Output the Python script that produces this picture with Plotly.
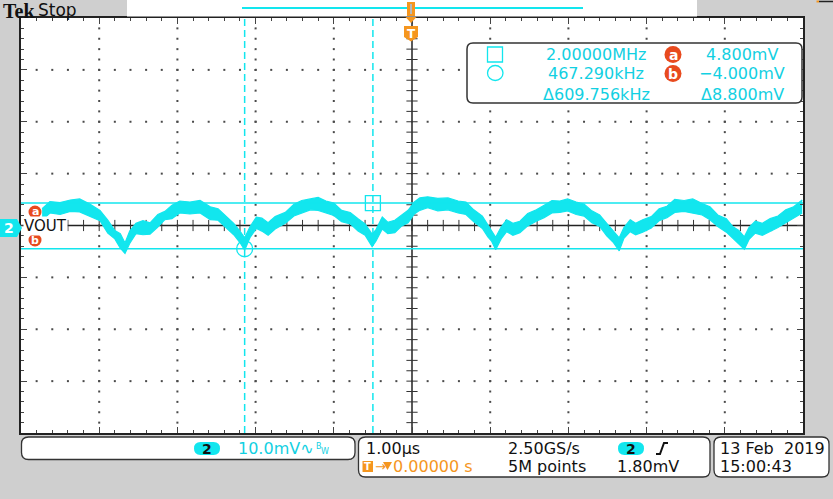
import plotly.graph_objects as go

# ---------------- data ----------------
# time in microseconds, voltage in mV (10 mV/div, 1 us/div)
trace_t = [-4.73, -4.63, -4.50, -4.37, -4.25, -4.12, -3.99, -3.89, -3.80, -3.73,
           -3.67, -3.61, -3.53, -3.44, -3.35, -3.25, -3.16, -3.07, -2.97, -2.84,
           -2.71, -2.58, -2.48, -2.38, -2.28, -2.20, -2.14, -2.07, -1.99, -1.92,
           -1.84, -1.75, -1.62, -1.51, -1.41, -1.30, -1.20, -1.10, -1.00, -0.90,
           -0.79, -0.69, -0.60, -0.51, -0.46, -0.38, -0.31, -0.22, -0.13, -0.05,
           0.03, 0.10, 0.20, 0.33, 0.46, 0.59, 0.69, 0.79, 0.90, 0.97,
           1.02, 1.07, 1.14, 1.21, 1.29, 1.38, 1.48, 1.59, 1.69, 1.79,
           1.89, 1.99, 2.10, 2.20, 2.30, 2.40, 2.49, 2.57, 2.65, 2.71,
           2.79, 2.86, 2.95, 3.06, 3.16, 3.26, 3.36, 3.48, 3.59, 3.71,
           3.81, 3.91, 4.02, 4.10, 4.18, 4.25, 4.31, 4.39, 4.48, 4.58,
           4.68, 4.78, 4.88, 4.99]
trace_hi = [3.7, 5.1, 4.9, 5.4, 5.6, 4.6, 3.4, 1.5, -0.5, -1.1,
            -2.9, -0.6, 0.9, 1.4, 1.0, 2.6, 3.2, 4.4, 5.2, 5.0,
            5.3, 4.1, 3.7, 2.3, 0.9, -0.6, -1.9, 0.3, 2.1, 1.9,
            1.0, 2.2, 3.0, 4.6, 5.3, 5.6, 5.9, 5.2, 4.8, 3.4,
            3.0, 1.8, 0.8, -1.2, -0.3, 2.1, 1.1, 1.5, 2.6, 3.4,
            5.0, 5.8, 6.0, 5.7, 5.8, 5.2, 5.0, 3.5, 2.3, 0.6,
            -0.4, -1.8, 0.2, 1.6, 0.9, 1.3, 2.8, 3.5, 4.4, 5.3,
            5.2, 5.6, 5.0, 4.6, 3.3, 2.5, 0.9, -0.5, -1.9, 0.1,
            1.6, 0.9, 1.6, 2.2, 3.7, 4.2, 5.5, 5.3, 5.6, 4.7,
            4.1, 2.5, 1.8, 0.3, -0.5, -1.7, 0.1, 1.3, 0.9, 1.8,
            2.3, 3.5, 4.1, 5.4]
trace_lo = [1.5, 2.9, 2.6, 3.2, 3.1, 2.3, 1.4, -1.0, -2.1, -3.9,
            -4.9, -3.0, -1.1, -1.3, -1.2, 0.2, 1.6, 1.8, 2.9, 2.7,
            2.9, 1.6, 1.5, 0.1, -1.3, -2.8, -4.3, -1.8, -0.1, -0.6,
            -1.4, -0.2, 0.9, 2.3, 2.8, 3.5, 3.4, 2.9, 2.4, 1.2,
            0.8, -0.6, -1.4, -3.6, -2.5, -0.2, -1.1, -0.9, 0.4, 1.0,
            2.7, 3.4, 3.9, 3.3, 3.5, 2.9, 2.6, 1.2, -0.1, -1.7,
            -2.6, -4.2, -2.1, -0.7, -1.4, -0.9, 0.4, 1.3, 2.0, 2.9,
            3.0, 3.3, 2.6, 2.3, 1.0, 0.3, -1.5, -2.7, -4.4, -2.0,
            -0.7, -1.3, -0.8, 0.0, 1.4, 2.0, 3.0, 3.2, 2.9, 2.5,
            1.6, 0.3, -0.8, -1.9, -3.0, -4.1, -2.2, -1.0, -1.4, -0.7,
            0.1, 1.0, 1.9, 2.9]

cursor_t = [-2.14, -0.50]        # vertical cursors (us)
cursor_v = [4.8, -4.0]           # horizontal cursors a, b (mV)
x_range = [-5.0, 5.0]            # 10 div x 1.00 us
y_range = [-39.52, 40.48]        # 8 div x 10.0 mV
y_center = 0.48

meas_left = ["2.00000MHz", "467.290kHz", "\u0394609.756kHz"]
meas_right = ["4.800mV", "\u22124.000mV", "\u03948.800mV"]

# ---------------- styling ----------------
W, H = 833, 499
ML, MR, MT, MB = 21, 30, 18, 66
PW, PH = W - ML - MR, H - MT - MB
CY = "#12e6ee"
CYT = "#12d0e2"
ORG = "#f5961e"
RED = "#e84a1e"
GRAY = "#cfcfcf"
FONT = "DejaVu Sans"


def PX(x):
    return (x - ML) / PW


def PY(y):
    return (H - MB - y) / PH


def rrect(x0, y0, x1, y1, r):
    rx, ry = r / PW, r / PH
    a0, a1 = PX(x0), PX(x1)
    b0, b1 = PY(y1), PY(y0)  # bottom, top in paper
    return (f"M {a0+rx},{b0} L {a1-rx},{b0} Q {a1},{b0} {a1},{b0+ry} "
            f"L {a1},{b1-ry} Q {a1},{b1} {a1-rx},{b1} L {a0+rx},{b1} "
            f"Q {a0},{b1} {a0},{b1-ry} L {a0},{b0+ry} Q {a0},{b0} {a0+rx},{b0} Z")


def pth(points):
    s = "M " + " L ".join(f"{PX(x)},{PY(y)}" for x, y in points) + " Z"
    return s


fig = go.Figure()

# graticule dots
gx, gy = [], []
for i in range(1, 10):
    t = x_range[0] + i
    if abs(t) < 1e-9:
        continue
    for k in range(1, 40):
        gx.append(t)
        gy.append(y_range[0] + k * 2.0)
for j in range(1, 8):
    v = y_range[0] + j * 10.0
    if abs(v - y_center) < 1e-6:
        continue
    for i in range(1, 50):
        gx.append(x_range[0] + i * 0.2)
        gy.append(v)
fig.add_trace(go.Scatter(x=gx, y=gy, mode="markers", hoverinfo="skip",
                         marker=dict(symbol="square", size=2, color="#4a4a4a",
                                     line=dict(width=0))))

# center crosshair ticks
tx = [x_range[0] + i * 0.2 for i in range(1, 50)]
fig.add_trace(go.Scatter(x=tx, y=[y_center] * len(tx), mode="markers", hoverinfo="skip",
                         marker=dict(symbol="line-ns", size=8, color="#333333",
                                     line=dict(width=1, color="#333333"))))
ty = [y_range[0] + k * 2.0 for k in range(1, 40)]
fig.add_trace(go.Scatter(x=[0] * len(ty), y=ty, mode="markers", hoverinfo="skip",
                         marker=dict(symbol="line-ew", size=8, color="#333333",
                                     line=dict(width=1, color="#333333"))))

# waveform band
fig.add_trace(go.Scatter(x=trace_t, y=trace_lo, mode="lines", hoverinfo="skip",
                         line=dict(color=CY, width=1.2)))
fig.add_trace(go.Scatter(x=trace_t, y=trace_hi, mode="lines", hoverinfo="skip",
                         fill="tonexty", fillcolor=CY,
                         line=dict(color=CY, width=1.2)))

# cursor markers
fig.add_trace(go.Scatter(x=[cursor_t[1]], y=[cursor_v[0]], mode="markers", hoverinfo="skip",
                         marker=dict(symbol="square-open", size=15, color=CY,
                                     line=dict(width=1.3, color=CY))))
fig.add_trace(go.Scatter(x=[cursor_t[0]], y=[cursor_v[1]], mode="markers", hoverinfo="skip",
                         marker=dict(symbol="circle-open", size=16, color=CY,
                                     line=dict(width=1.3, color=CY))))

shapes = []
# center lines
shapes.append(dict(type="line", xref="x", yref="y", x0=x_range[0], x1=x_range[1],
                   y0=y_center, y1=y_center, line=dict(color="#222222", width=1.5), layer="below"))
shapes.append(dict(type="line", xref="x", yref="y", x0=0, x1=0,
                   y0=y_range[0], y1=y_range[1], line=dict(color="#222222", width=1.5), layer="below"))
# cursors
for v in cursor_v:
    shapes.append(dict(type="line", xref="paper", yref="y", x0=0, x1=1, y0=v, y1=v,
                       line=dict(color=CY, width=1.5)))
for t in cursor_t:
    shapes.append(dict(type="line", xref="x", yref="paper", x0=t, x1=t, y0=0, y1=1,
                       line=dict(color=CY, width=1.5, dash="7px,4px")))

# header
shapes.append(dict(type="rect", xref="paper", yref="paper", x0=PX(127), x1=PX(697),
                   y0=PY(16.5), y1=PY(0), fillcolor="white", line=dict(width=0)))
shapes.append(dict(type="line", xref="paper", yref="paper", x0=PX(242), x1=PX(583),
                   y0=PY(8), y1=PY(8), line=dict(color=CY, width=2)))
shapes.append(dict(type="line", xref="paper", yref="paper", x0=PX(819), x1=PX(833),
                   y0=PY(1.5), y1=PY(1.5), line=dict(color="#222222", width=1.5)))
shapes.append(dict(type="line", xref="paper", yref="paper", x0=PX(816.5), x1=PX(819),
                   y0=PY(1.5), y1=PY(1.5), line=dict(color=ORG, width=2)))
# trigger markers
shapes.append(dict(type="rect", xref="paper", yref="paper", x0=PX(407), x1=PX(415),
                   y0=PY(16), y1=PY(2), fillcolor=ORG, line=dict(width=0)))
shapes.append(dict(type="line", xref="paper", yref="paper", x0=PX(411), x1=PX(411),
                   y0=PY(14), y1=PY(4), line=dict(color="#b8b8b8", width=2)))
shapes.append(dict(type="path", xref="paper", yref="paper",
                   path=pth([(405.5, 17), (416.5, 17), (411, 23)]),
                   fillcolor=ORG, line=dict(width=0)))
shapes.append(dict(type="path", xref="paper", yref="paper",
                   path=pth([(404, 26), (418, 26), (418, 37), (411, 41.5), (404, 37)]),
                   fillcolor=ORG, line=dict(width=0)))

# channel marker
shapes.append(dict(type="path", xref="paper", yref="paper",
                   path=pth([(0, 219), (17, 219), (22, 228), (17, 237), (0, 237)]),
                   fillcolor=CY, line=dict(width=0)))
# a / b labels
for cy_ in (212.0, 240.0):
    shapes.append(dict(type="circle", xref="paper", yref="paper", x0=PX(28.5), x1=PX(41.5),
                       y0=PY(cy_ + 6.5), y1=PY(cy_ - 6.5), fillcolor=RED, line=dict(width=0)))

# measurement box
shapes.append(dict(type="path", xref="paper", yref="paper", path=rrect(467, 43, 802, 103, 6),
                   fillcolor="white", line=dict(color="#333333", width=1.5)))
shapes.append(dict(type="rect", xref="paper", yref="paper", x0=PX(487.5), x1=PX(502.5),
                   y0=PY(62), y1=PY(47), line=dict(color=CY, width=1.3)))
shapes.append(dict(type="circle", xref="paper", yref="paper", x0=PX(487.5), x1=PX(503),
                   y0=PY(80.5), y1=PY(65.5), line=dict(color=CY, width=1.3)))
for cy_ in (54.5, 73.5):
    shapes.append(dict(type="circle", xref="paper", yref="paper", x0=PX(664.5), x1=PX(681.5),
                       y0=PY(cy_ + 8.5), y1=PY(cy_ - 8.5), fillcolor=RED, line=dict(width=0)))

# status boxes
shapes.append(dict(type="path", xref="paper", yref="paper", path=rrect(21.5, 437, 355, 459.5, 7),
                   fillcolor="white", line=dict(color="#333333", width=1.3)))
shapes.append(dict(type="path", xref="paper", yref="paper", path=rrect(358.5, 437, 710, 477, 7),
                   fillcolor="white", line=dict(color="#333333", width=1.3)))
shapes.append(dict(type="path", xref="paper", yref="paper", path=rrect(714, 437, 829, 477, 7),
                   fillcolor="white", line=dict(color="#333333", width=1.3)))
shapes.append(dict(type="path", xref="paper", yref="paper", path=rrect(194, 442, 220, 455, 6.5),
                   fillcolor=CY, line=dict(width=0)))
shapes.append(dict(type="path", xref="paper", yref="paper", path=rrect(618, 442, 644, 455, 6.5),
                   fillcolor=CY, line=dict(width=0)))
shapes.append(dict(type="rect", xref="paper", yref="paper", x0=PX(362.5), x1=PX(373),
                   y0=PY(472), y1=PY(461), fillcolor=ORG, line=dict(width=0)))
shapes.append(dict(type="path", xref="paper", yref="paper",
                   path=pth([(383, 462), (392, 462), (387.5, 470)]),
                   fillcolor=ORG, line=dict(width=0)))
# trigger slope symbol
shapes.append(dict(type="path", xref="paper", yref="paper",
                   path=f"M {PX(656)},{PY(454)} L {PX(660)},{PY(454)} L {PX(664)},{PY(443)} L {PX(668)},{PY(443)}",
                   line=dict(color="#111111", width=2)))

ann = []


def txt(x, y, s, color="#111111", size=16, anchor="left", family=FONT, bold=False, bg=None):
    d = dict(xref="paper", yref="paper", x=PX(x), y=PY(y), text=(f"<b>{s}</b>" if bold else s),
             showarrow=False, xanchor=anchor, yanchor="middle",
             font=dict(color=color, size=size, family=family), borderpad=0)
    if bg:
        d["bgcolor"] = bg
    ann.append(d)


txt(2, 10.5, "Tek", size=20, family="Liberation Serif", bold=True)
txt(37, 10, "Stop", size=17)
txt(411, 33.5, "T", color="white", size=12, anchor="center", bold=True)
txt(8.5, 228, "2", color="white", size=14, anchor="center", bold=True)
txt(23, 226, "VOUT", size=15, bg="white")
txt(35, 211.5, "a", color="white", size=11, anchor="center", bold=True)
txt(35, 240.5, "b", color="white", size=11, anchor="center", bold=True)

rows = [54.5, 73.5, 94]
for r, s in zip(rows, meas_left):
    txt(596, r, s, color=CYT, size=16, anchor="center")
for r, s in zip(rows, meas_right):
    txt(742, r, s, color=CYT, size=16, anchor="center")
txt(673, 54.5, "a", color="white", size=14, anchor="center", bold=True)
txt(673, 73.5, "b", color="white", size=14, anchor="center", bold=True)

txt(207, 448.5, "2", size=14, anchor="center", bold=True)
txt(237, 448.5, "10.0mV\u223f", color=CYT, size=16)
txt(315, 446, "B", color=CYT, size=8)
txt(320, 451, "W", color=CYT, size=8)
txt(365, 448.5, "1.00\u00b5s", size=16)
txt(367.7, 466.5, "T", color="white", size=10, anchor="center", bold=True)
txt(373.5, 466.5, "\u2192", color=ORG, size=13)
txt(392, 466.5, "0.00000 s", color=ORG, size=16)
txt(507, 448.5, "2.50GS/s", size=16)
txt(507, 466.5, "5M points", size=16)
txt(631, 448.5, "2", size=14, anchor="center", bold=True)
txt(616, 466.5, "1.80mV", size=16)
txt(719, 448.5, "13 Feb  2019", size=16)
txt(719, 466.5, "15:00:43", size=16)

axis_common = dict(showgrid=False, zeroline=False, showline=True, linecolor="#222222",
                   linewidth=2, mirror="ticks", ticks="inside", ticklen=6, tickwidth=1,
                   tickcolor="#444444", showticklabels=False, fixedrange=True)
fig.update_layout(
    width=W, height=H,
    margin=dict(l=ML, r=MR, t=MT, b=MB, pad=0),
    paper_bgcolor=GRAY, plot_bgcolor="white",
    showlegend=False,
    xaxis=dict(range=x_range, dtick=1, tick0=0,
               minor=dict(ticks="inside", ticklen=3, dtick=0.2, tick0=0, tickcolor="#444444"),
               **axis_common),
    yaxis=dict(range=y_range, dtick=10, tick0=y_center,
               minor=dict(ticks="inside", ticklen=3, dtick=2, tick0=y_center, tickcolor="#444444"),
               **axis_common),
    shapes=shapes,
    annotations=ann,
)

fig.write_html("out.html", config={"displayModeBar": False},
               post_script="document.body.style.margin='0';document.body.style.overflow='hidden';")
